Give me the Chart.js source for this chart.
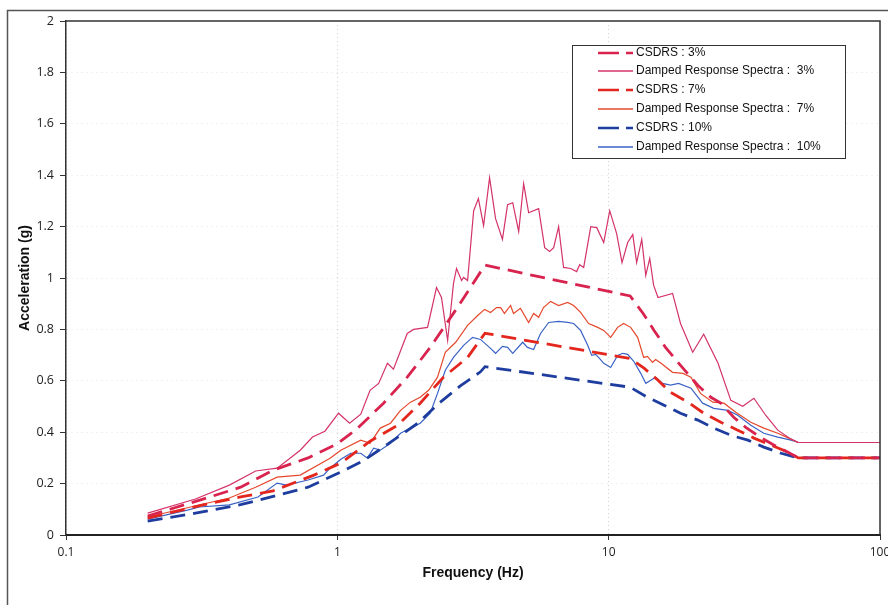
<!DOCTYPE html>
<html>
<head>
<meta charset="utf-8">
<script src="https://cdn.jsdelivr.net/npm/chart.js@4.4.1/dist/chart.umd.min.js"></script>
<style>
  html, body { margin: 0; padding: 0; background: #fff; }
  #wrap { width: 888px; height: 605px; }
</style>
</head>
<body>
<div id="wrap"><canvas id="c" width="888" height="605"></canvas></div>
<script>
// Frequencies (Hz) and spectral accelerations (g)

// CSDRS, 3% damping
const csdrs3Freq = [0.2, 0.25, 0.33, 0.44, 0.58, 0.78, 1.0, 1.19, 1.48, 1.81, 2.2, 2.77, 3.5, 12, 13.4, 14.7, 16.2, 18.4, 21.3, 23.8, 25.9, 28.9, 32, 36.1, 40.6, 45.8, 50, 100];
const csdrs3 = [0.074, 0.105, 0.144, 0.186, 0.252, 0.30, 0.355, 0.416, 0.513, 0.614, 0.730, 0.885, 1.05, 0.93, 0.862, 0.796, 0.730, 0.660, 0.583, 0.536, 0.513, 0.458, 0.419, 0.381, 0.350, 0.322, 0.30, 0.30];

// Damped response spectra, 3%
const damped3Freq = [0.2, 0.3, 0.4, 0.5, 0.6, 0.73, 0.81, 0.9, 1.01, 1.11, 1.22, 1.32, 1.42, 1.53, 1.61, 1.81, 1.91, 2.15, 2.32, 2.42, 2.55, 2.68, 2.75, 2.87, 2.92, 3.02, 3.18, 3.31, 3.46, 3.64, 3.83, 4.06, 4.24, 4.43, 4.66, 4.86, 5.07, 5.52, 5.81, 6.06, 6.27, 6.54, 6.82, 7.24, 7.62, 7.82, 8.09, 8.59, 9.04, 9.59, 10.09, 10.7, 11.2, 11.75, 12.27, 12.68, 13.24, 13.7, 14.17, 14.65, 15.2, 17.2, 18.4, 20.4, 22.4, 25.3, 28.2, 31.2, 34.3, 37.9, 42, 47, 50, 100];
const damped3 = [0.085, 0.14, 0.194, 0.249, 0.260, 0.330, 0.381, 0.404, 0.474, 0.435, 0.470, 0.563, 0.590, 0.668, 0.645, 0.784, 0.800, 0.808, 0.963, 0.924, 0.757, 0.979, 1.037, 0.990, 1.002, 0.990, 1.262, 1.309, 1.204, 1.390, 1.231, 1.150, 1.285, 1.293, 1.181, 1.367, 1.254, 1.270, 1.118, 1.103, 1.118, 1.200, 1.041, 1.037, 1.025, 1.052, 1.041, 1.200, 1.196, 1.138, 1.262, 1.173, 1.060, 1.138, 1.169, 1.060, 1.150, 1.010, 1.076, 0.971, 0.924, 0.940, 0.823, 0.711, 0.781, 0.668, 0.524, 0.501, 0.532, 0.466, 0.408, 0.373, 0.36, 0.36];

// CSDRS, 7% damping
const csdrs7Freq = [0.2, 0.32, 0.44, 0.58, 0.82, 1.03, 1.32, 1.67, 2.02, 2.46, 3.02, 3.5, 12, 13.5, 15.2, 16.9, 19.6, 22.4, 25.9, 29.9, 34.3, 39.6, 45.8, 50, 100];
const csdrs7 = [0.066, 0.117, 0.148, 0.172, 0.233, 0.280, 0.365, 0.427, 0.513, 0.614, 0.691, 0.785, 0.687, 0.649, 0.602, 0.555, 0.517, 0.474, 0.439, 0.408, 0.377, 0.350, 0.322, 0.30, 0.30];

// Damped response spectra, 7%
const damped7Freq = [0.2, 0.4, 0.5, 0.6, 0.73, 0.94, 1.03, 1.22, 1.32, 1.44, 1.57, 1.71, 1.86, 2.02, 2.17, 2.34, 2.5, 2.73, 3.02, 3.29, 3.49, 3.67, 3.86, 4.0, 4.13, 4.35, 4.46, 4.73, 5.07, 5.29, 5.52, 5.75, 6.11, 6.54, 7.06, 7.43, 7.88, 8.44, 9.11, 9.59, 10.17, 10.79, 11.35, 12.05, 12.79, 13.46, 13.9, 14.5, 14.9, 15.6, 17.2, 18.8, 20.1, 21.8, 24.2, 26.6, 29.4, 33.4, 37.3, 42, 47, 50, 100];
const damped7 = [0.070, 0.144, 0.186, 0.225, 0.233, 0.299, 0.330, 0.369, 0.357, 0.416, 0.435, 0.485, 0.517, 0.536, 0.563, 0.614, 0.711, 0.750, 0.816, 0.854, 0.878, 0.866, 0.885, 0.885, 0.862, 0.893, 0.862, 0.882, 0.827, 0.862, 0.847, 0.885, 0.909, 0.893, 0.905, 0.893, 0.866, 0.823, 0.808, 0.796, 0.769, 0.808, 0.823, 0.808, 0.769, 0.691, 0.695, 0.672, 0.683, 0.668, 0.633, 0.629, 0.614, 0.551, 0.517, 0.513, 0.478, 0.439, 0.416, 0.396, 0.373, 0.36, 0.36];

// CSDRS, 10% damping
const csdrs10Freq = [0.2, 0.3, 0.44, 0.58, 0.78, 1.03, 1.25, 1.48, 1.98, 2.39, 2.84, 3.37, 3.5, 12, 13.9, 16, 18.4, 21.3, 24.4, 28.2, 32.6, 37.3, 43.2, 50, 100];
const csdrs10 = [0.054, 0.085, 0.118, 0.150, 0.186, 0.245, 0.29, 0.342, 0.435, 0.516, 0.58, 0.635, 0.655, 0.575, 0.536, 0.505, 0.474, 0.447, 0.416, 0.388, 0.369, 0.342, 0.318, 0.30, 0.30];

// Damped response spectra, 10%
const damped10Freq = [0.2, 0.28, 0.31, 0.4, 0.51, 0.6, 0.65, 0.78, 0.89, 0.94, 1.03, 1.12, 1.22, 1.29, 1.36, 1.44, 1.57, 1.71, 1.86, 2.02, 2.2, 2.34, 2.5, 2.68, 2.92, 3.15, 3.37, 3.67, 3.83, 4.06, 4.24, 4.43, 4.82, 5.02, 5.29, 5.61, 6.01, 6.54, 7.06, 7.43, 7.88, 8.37, 8.66, 8.95, 9.18, 9.59, 10.17, 10.79, 11.26, 11.75, 12.37, 13.13, 13.7, 14.3, 14.9, 15.8, 16.9, 18.1, 20.1, 22.2, 24.4, 27.5, 29.9, 33.4, 37.3, 42, 47, 50, 100];
const damped10 = [0.062, 0.097, 0.109, 0.117, 0.148, 0.202, 0.194, 0.214, 0.233, 0.260, 0.295, 0.318, 0.318, 0.299, 0.338, 0.330, 0.357, 0.396, 0.416, 0.435, 0.474, 0.551, 0.641, 0.691, 0.738, 0.769, 0.761, 0.726, 0.707, 0.734, 0.730, 0.707, 0.750, 0.730, 0.722, 0.784, 0.827, 0.831, 0.827, 0.823, 0.796, 0.738, 0.699, 0.703, 0.691, 0.668, 0.652, 0.699, 0.707, 0.703, 0.676, 0.629, 0.590, 0.602, 0.614, 0.590, 0.583, 0.590, 0.571, 0.513, 0.493, 0.485, 0.466, 0.427, 0.396, 0.381, 0.369, 0.36, 0.36];

// Axis tick values
const xTicks = [0.1, 1, 10, 100];
const yMin = 0, yMax = 2, yStep = 0.2;

const pts = (fs, vs) => fs.map((f, i) => ({ x: f, y: vs[i] }));

function dashed(label, color, fs, vs) {
  return { label, data: pts(fs, vs), borderColor: color, borderWidth: 2.8,
           borderDash: [15, 8], borderCapStyle: 'butt', pointRadius: 0, tension: 0, fill: false };
}
function solid(label, color, fs, vs) {
  return { label, data: pts(fs, vs), borderColor: color, borderWidth: 1.2,
           pointRadius: 0, tension: 0, fill: false };
}

const datasets = [
  dashed('CSDRS : 3%', '#d9234f', csdrs3Freq, csdrs3),
  solid('Damped Response Spectra :  3%', '#d4336a', damped3Freq, damped3),
  dashed('CSDRS : 7%', '#e3261e', csdrs7Freq, csdrs7),
  solid('Damped Response Spectra :  7%', '#e5482c', damped7Freq, damped7),
  dashed('CSDRS : 10%', '#1e3d9e', csdrs10Freq, csdrs10),
  solid('Damped Response Spectra :  10%', '#3a62c6', damped10Freq, damped10)
];

// Frame, plot-area outline and the boxed legend
const decorations = {
  id: 'decorations',
  beforeDraw(chart) {
    const ctx = chart.ctx;
    ctx.save();
    ctx.fillStyle = '#fff';
    ctx.fillRect(0, 0, chart.width, chart.height);
    ctx.restore();
  },
  afterDraw(chart) {
    const { ctx, chartArea: a } = chart;
    ctx.save();
    // outer frame
    ctx.strokeStyle = '#555';
    ctx.lineWidth = 1.5;
    ctx.beginPath();
    ctx.moveTo(7.5, chart.height);
    ctx.lineTo(7.5, 10.5);
    ctx.lineTo(chart.width, 10.5);
    ctx.stroke();
    // plot area top and right edges
    ctx.strokeStyle = '#333';
    ctx.lineWidth = 1.5;
    ctx.beginPath();
    ctx.moveTo(a.left, a.top);
    ctx.lineTo(a.right, a.top);
    ctx.lineTo(a.right, a.bottom);
    ctx.stroke();
    // legend box
    const lx = 572, ly = 45, lw = 273, lh = 113;
    ctx.fillStyle = '#fff';
    ctx.fillRect(lx, ly, lw, lh);
    ctx.strokeStyle = '#333';
    ctx.lineWidth = 1;
    ctx.strokeRect(lx + 0.5, ly + 0.5, lw, lh);
    ctx.font = '12px "Liberation Sans", Arial, sans-serif';
    ctx.textBaseline = 'middle';
    ctx.textAlign = 'left';
    chart.data.datasets.forEach((ds, i) => {
      const y = Math.round(52.5 + i * 18.85);
      ctx.strokeStyle = ds.borderColor;
      ctx.lineWidth = ds.borderDash ? 2.6 : 1.6;
      ctx.setLineDash(ds.borderDash ? [21, 7] : []);
      ctx.beginPath();
      ctx.moveTo(598, y);
      ctx.lineTo(633, y);
      ctx.stroke();
      ctx.setLineDash([]);
      ctx.fillStyle = '#111';
      ctx.fillText(ds.label, 636, y);
    });
    ctx.restore();
  }
};

new Chart(document.getElementById('c'), {
  type: 'line',
  data: { datasets },
  plugins: [decorations],
  options: {
    responsive: false,
    animation: false,
    devicePixelRatio: 1,
    layout: { padding: { left: 0, right: 8, top: 21, bottom: 0 } },
    plugins: { legend: { display: false }, tooltip: { enabled: false } },
    scales: {
      x: {
        type: 'logarithmic',
        min: 0.1,
        max: 100,
        afterBuildTicks: s => { s.ticks = xTicks.map(v => ({ value: v })); },
        afterFit: s => { s.height = 70; s.paddingLeft = 0; s.paddingRight = 0; },
        ticks: {
          callback: v => String(v),
          autoSkip: false,
          maxRotation: 0,
          padding: 5,
          color: '#222',
          font: { family: '"Open Sans", sans-serif', size: 12 }
        },
        grid: { color: 'rgba(0,0,0,0.18)', tickColor: '#333', tickLength: 5, tickBorderDash: [] },
        border: { color: '#222', width: 2, dash: [1, 3] },
        title: {
          display: true,
          text: 'Frequency (Hz)',
          color: '#111',
          font: { family: '"Liberation Sans", Arial, sans-serif', size: 14, weight: 'bold' },
          padding: { top: 0, bottom: 23 }
        }
      },
      y: {
        type: 'linear',
        min: yMin,
        max: yMax,
        afterFit: s => { s.width = 66; },
        ticks: {
          stepSize: yStep,
          callback: v => String(+v.toFixed(1)),
          padding: 6,
          color: '#222',
          font: { family: '"Open Sans", sans-serif', size: 12.5 }
        },
        grid: { color: 'rgba(0,0,0,0.10)', tickColor: '#333', tickLength: 6, tickBorderDash: [] },
        border: { color: '#333', width: 1.5, dash: [1, 4] },
        title: {
          display: true,
          text: 'Acceleration (g)',
          color: '#111',
          font: { family: '"Liberation Sans", Arial, sans-serif', size: 14, weight: 'bold' },
          padding: { top: 17, bottom: 0 }
        }
      }
    }
  }
});
</script>
</body>
</html>
